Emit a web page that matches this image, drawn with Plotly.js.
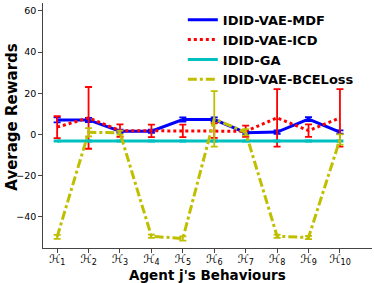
<!DOCTYPE html>
<html><head><meta charset="utf-8">
<script src="https://cdn.plot.ly/plotly-3.0.1.min.js"></script>
<style>body{margin:0;padding:0;background:#fff}#c{width:374px;height:283px}</style>
</head><body><div id="c"></div>
<script>
const xs = [1,2,3,4,5,6,7,8,9,10];
const tickLabels = ['ℋ<sub>1</sub>','ℋ<sub>2</sub>','ℋ<sub>3</sub>','ℋ<sub>4</sub>','ℋ<sub>5</sub>','ℋ<sub>6</sub>','ℋ<sub>7</sub>','ℋ<sub>8</sub>','ℋ<sub>9</sub>','ℋ<sub>10</sub>'];
const mdf = [7, 7, 1.5, 1.5, 7.2, 7.2, 0.8, 1.1, 7.4, 1.1];
const mdfErr = [1.2, 1, 0.8, 0.8, 1, 1, 0.8, 0.8, 1, 0.8];
const icd = [3.5, 8, 1.8, 1.7, 1.7, 1.8, 1.5, 8, 1.8, 8];
const icdErr = [5.3, 15, 3, 3, 3, 3.5, 2.7, 14, 3, 14];
const ga = [-3.2, -3.2, -3.2, -3.2, -3.2, -3.2, -3.2, -3.2, -3.2, -3.2];
const gaErr = [0.3, 0.3, 0.3, 0.3, 0.3, 0.3, 0.3, 0.3, 0.3, 0.3];
const bce = [-49.8, 1, 0.8, -49.5, -50.6, 7.5, 1, -49.5, -50.1, -2.5];
const bceErr = [1, 2, 1, 0.8, 1, 13.5, 1.5, 0.8, 0.8, 2.5];
const xTitle = "Agent j's Behaviours";
const yTitle = 'Average Rewards';

function tr(name, y, err, color, dash) {
  return {x: xs, y: y, name: name, type: 'scatter', mode: 'lines',
    line: {color: color, width: 3, dash: dash},
    error_y: {type: 'data', array: err, visible: true, color: color, thickness: 1.8, width: 3.5}};
}
const data = [
  tr('IDID-VAE-MDF', mdf, mdfErr, '#0000ff', 'solid'),
  tr('IDID-VAE-ICD', icd, icdErr, '#ff0000', 'dot'),
  tr('IDID-GA', ga, gaErr, '#00bfbf', 'solid'),
  tr('IDID-VAE-BCELoss', bce, bceErr, '#bfbf00', 'dashdot')
];
const layout = {
  width: 374, height: 283,
  margin: {l: 43, r: 2, t: 3, b: 35},
  paper_bgcolor: '#fff', plot_bgcolor: '#fff',
  font: {family: 'DejaVu Sans', size: 10, color: '#000'},
  showlegend: true,
  legend: {x: 0.425, y: 0.993, xanchor: 'left', yanchor: 'top',
    font: {family: 'DejaVu Sans', size: 13, weight: 'bold'},
    bgcolor: 'rgba(255,255,255,0)', tracegroupgap: 0, itemwidth: 30},
  xaxis: {range: [0.55, 11.02], tickvals: xs, ticktext: tickLabels,
    showgrid: false, zeroline: false, showline: true, linecolor: '#444', linewidth: 1.2,
    ticks: 'outside', ticklen: 3.5, tickcolor: '#444', ticklabelstandoff: -4,
    tickfont: {family: 'DejaVu Sans', size: 11.5}},
  yaxis: {range: [-55.2, 63.8], tickvals: [-40, -20, 0, 20, 40, 60],
    showgrid: false, zeroline: false, showline: true, linecolor: '#444', linewidth: 1.2,
    ticks: 'outside', ticklen: 3.5, tickcolor: '#444',
    tickfont: {family: 'DejaVu Sans', size: 9.5}},
  annotations: [
    {text: '<b>' + xTitle + '</b>', xref: 'paper', yref: 'paper', x: 0.5, y: -0.109,
     xanchor: 'center', yanchor: 'middle', showarrow: false,
     font: {family: 'DejaVu Sans', size: 13.5}},
    {text: '<b>' + yTitle + '</b>', xref: 'paper', yref: 'paper', x: -0.095, y: 0.535,
     xanchor: 'center', yanchor: 'middle', showarrow: false, textangle: -90,
     font: {family: 'DejaVu Sans', size: 15}}
  ]
};
Plotly.newPlot('c', data, layout, {displayModeBar: false, staticPlot: true});
</script></body></html>
